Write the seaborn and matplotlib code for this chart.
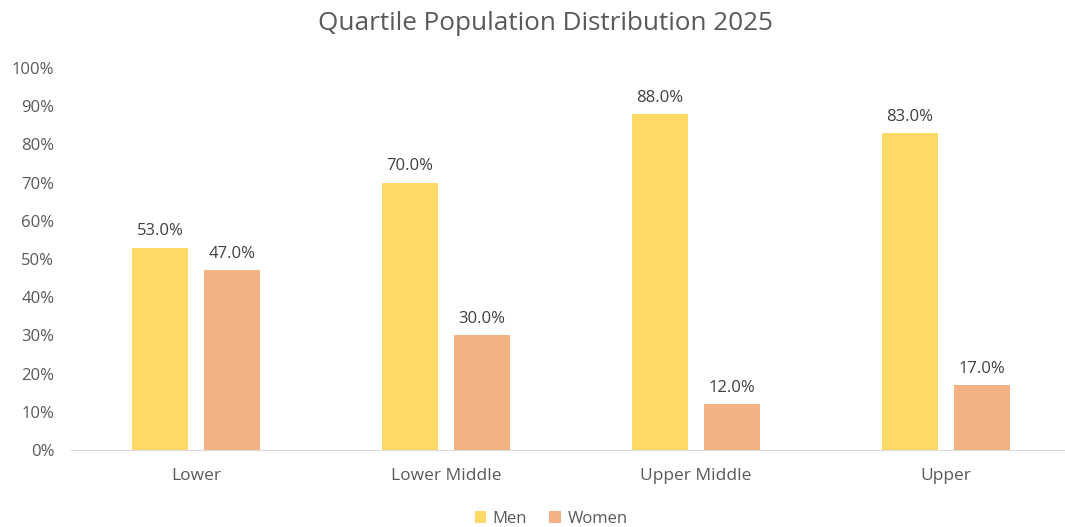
import pandas as pd
import seaborn as sns
import matplotlib.pyplot as plt
from matplotlib.ticker import FuncFormatter

quartiles = ["Lower", "Lower Middle", "Upper Middle", "Upper"]
men = [53.0, 70.0, 88.0, 83.0]
women = [47.0, 30.0, 12.0, 17.0]
groups = ["Men", "Women"]
colors = ["#FFD966", "#F4B183"]

df = pd.DataFrame({
    "quartile": quartiles * 2,
    "share": men + women,
    "group": [groups[0]] * 4 + [groups[1]] * 4,
})

sns.set_style("white")
plt.rcParams["font.family"] = ["Open Sans", "DejaVu Sans"]

fig = plt.figure(figsize=(10.65, 5.27), dpi=100)
ax = fig.add_axes([71 / 1065, 1 - 450 / 527, 994 / 1065, (450 - 68) / 527])

sns.barplot(data=df, x="quartile", y="share", hue="group", order=quartiles,
            hue_order=groups, palette=colors, width=0.576, gap=0.236,
            saturation=1, linewidth=0, ax=ax)

for cont in ax.containers:
    ax.bar_label(cont, fmt="%.1f%%", padding=6, fontsize=12, color="#404040")

ax.set_ylim(0, 100)
ax.set_xlim(-0.5, -0.5 + 994 / 250)
ax.set_yticks(range(0, 101, 10))
ax.yaxis.set_major_formatter(FuncFormatter(lambda v, _: f"{v:.0f}%"))
ax.tick_params(axis="both", length=0, labelcolor="#595959")
ax.tick_params(axis="x", pad=13, labelsize=12.5)
ax.tick_params(axis="y", pad=12, labelsize=12)
ax.set_xlabel("")
ax.set_ylabel("")
for s in ["top", "right", "left"]:
    ax.spines[s].set_visible(False)
ax.spines["bottom"].set_color("#D9D9D9")

fig.suptitle("Quartile Population Distribution 2025", x=546 / 1065, y=0.98,
             fontsize=18.8, color="#595959")

handles, labels = ax.get_legend_handles_labels()
ax.legend(handles, labels, loc="center", bbox_to_anchor=((551 - 71) / 994, -0.18),
          ncol=2, frameon=False, fontsize=12, labelcolor="#595959",
          handlelength=0.7, handleheight=0.7, handletextpad=0.4, columnspacing=1.3)

fig.savefig("out.png", dpi=100)
